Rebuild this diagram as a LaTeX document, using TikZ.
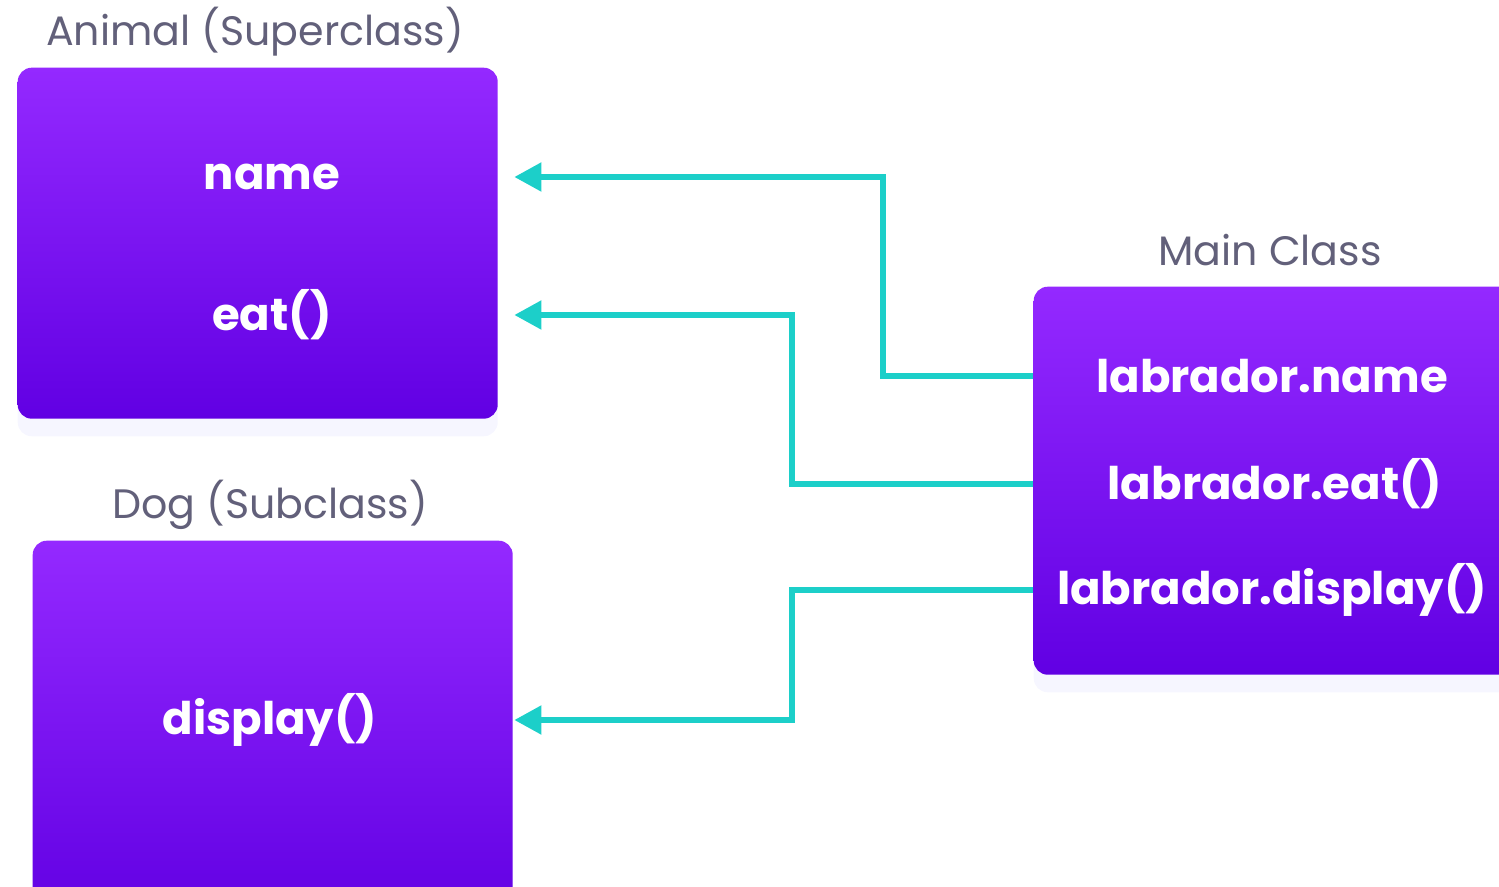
\documentclass[tikz,border=0pt]{standalone}
\usepackage{fontspec}
\setmainfont{Poppins}
\usepackage{tikz}
\usetikzlibrary{arrows.meta, positioning, shadows}
\definecolor{boxtop}{HTML}{9429FF}
\definecolor{boxbot}{HTML}{6100E3}
\definecolor{linkcol}{HTML}{1CCFC9}
\definecolor{titlecol}{HTML}{62607A}
\tikzset{>={Triangle[length=7.7pt,width=8pt]},
classbox/.style={anchor=north west, rounded corners=4pt, top color=boxtop, bottom color=boxbot,
  drop shadow={shadow xshift=0pt, shadow yshift=-5pt, fill=blue!20!white, opacity=0.18}},
member/.style={text=white, font=\fontsize{12.8}{15}\selectfont\bfseries},
title/.style={text=titlecol, font=\fontsize{11.7}{14}\selectfont},
link/.style={->, draw=linkcol, line width=1.45pt}
}
\begin{document}
\begin{tikzpicture}
\useasboundingbox (0,0) rectangle (14.99,-8.87);
% boxes
\node[classbox, minimum width=4.8cm, minimum height=3.51cm] (animal) at (0.17,-0.67) {};
\node[classbox, minimum width=4.8cm, minimum height=3.8cm] (dog) at (0.32,-5.40) {};
\node[classbox, minimum width=4.9cm, minimum height=3.88cm] (main) at (10.33,-2.86) {};
\node[title] (animalt) at (2.55,-0.32) {Animal (Superclass)};
\node[title] (dogt) at (2.70,-5.05) {Dog (Subclass)};
\node[title] (maint) at (12.70,-2.50) {Main Class};
% members
\node[member] (nm) at (2.72,-1.77) {name};
\node[member] (eat) at (2.72,-3.15) {eat()};
\node[member] (disp) at (2.70,-7.20) {display()};
\node[member] (lname) at (12.72,-3.76) {labrador.name};
\node[member] (leat) at (12.75,-4.84) {labrador.eat()};
\node[member] (ldisp) at (12.72,-5.90) {labrador.display()};
% links
\draw[link] (main.west |- lname) -- ++(-1.50,0) |- ([xshift=0.16cm]animal.east |- nm);
\draw[link] (main.west |- leat) -- ++(-2.41,0) |- ([xshift=0.16cm]animal.east |- eat);
\draw[link] (main.west |- ldisp) -- ++(-2.41,0) |- ([xshift=0.16cm]animal.east |- disp);
\end{tikzpicture}
\end{document}
